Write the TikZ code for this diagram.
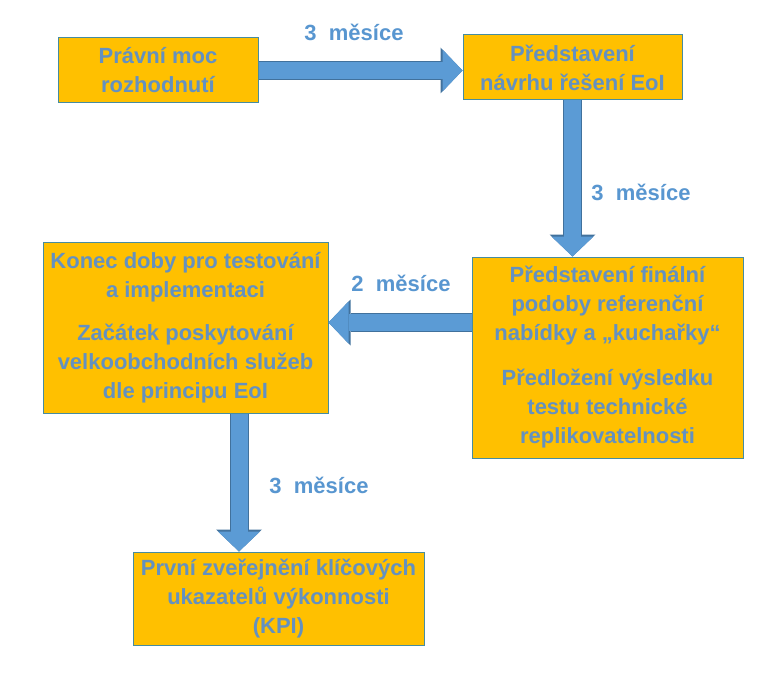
\documentclass[tikz,border=0pt]{standalone}
\usepackage{fontspec}
\setmainfont{Liberation Sans}
\usetikzlibrary{arrows.meta, positioning}

\definecolor{boxorange}{RGB}{255,192,0}
\definecolor{boxedge}{RGB}{70,140,160}
\definecolor{txtblue}{RGB}{100,145,192}
\definecolor{lblblue}{RGB}{88,150,208}
\definecolor{arrowblue}{RGB}{91,155,213}
\definecolor{arrowedge}{RGB}{65,113,156}

\begin{document}
\begin{tikzpicture}[x=1pt, y=-1pt,
    box/.style={draw=boxedge, line width=1pt, fill=boxorange, text=txtblue, align=center, inner sep=0pt, font=\bfseries\fontsize{22}{29}\selectfont},
    flow/.style={draw=arrowblue, line width=17pt, -{Triangle[length=20pt, width=42pt, line width=0pt]},
        preaction={draw=arrowedge, line width=19pt, -{Triangle[length=22pt, width=46pt, line width=0pt]}}},
    lbl/.style={text=lblblue, anchor=base, inner sep=0pt, font=\bfseries\fontsize{22}{29}\selectfont}]

    \useasboundingbox (0,0) rectangle (784,690);

    % Uzly casove osy
    \node (pravni) [box, minimum width=200pt, minimum height=65pt] at (158,70.5) {Právní moc\\rozhodnutí};
    \node (navrh) [box, minimum width=219pt, minimum height=65pt] at (572.5,67.5) {Představení\\návrhu řešení EoI};
    \node (finalni) [box, minimum width=271pt, minimum height=201pt] at (607.5,357.5) {Představení finální\\podoby referenční\\nabídky a „kuchařky“\\[16pt]Předložení výsledku\\testu technické\\replikovatelnosti};
    \node (konec) [box, minimum width=285pt, minimum height=171pt] at (185.5,327.5) {Konec doby pro testování\\a implementaci\\[14pt]Začátek poskytování\\velkoobchodních služeb\\dle principu EoI};
    \node (kpi) [box, minimum width=291pt, minimum height=93pt] at (278.5,598.5) {První zveřejnění klíčových\\ukazatelů výkonnosti\\(KPI)};

    % Pomocne body pro sipky
    \coordinate (a3) at ([yshift=5pt]konec.east);
    \coordinate (a4) at ([xshift=53.5pt]konec.south);

    % Sipky
    \draw[flow] (pravni.east) -- (pravni.east -| navrh.west);
    \draw[flow] (navrh.south) -- (navrh.south |- finalni.north);
    \draw[flow] (a3 -| finalni.west) -- (a3);
    \draw[flow] (a4) -- (a4 |- kpi.north);

    % Popisky
    \node[lbl] (m1) at (354,41) {3~~měsíce};
    \node[lbl] (m2) at (641,200) {3~~měsíce};
    \node[lbl] (m3) at (401,291) {2~~měsíce};
    \node[lbl] (m4) at (319,493) {3~~měsíce};
\end{tikzpicture}
\end{document}
